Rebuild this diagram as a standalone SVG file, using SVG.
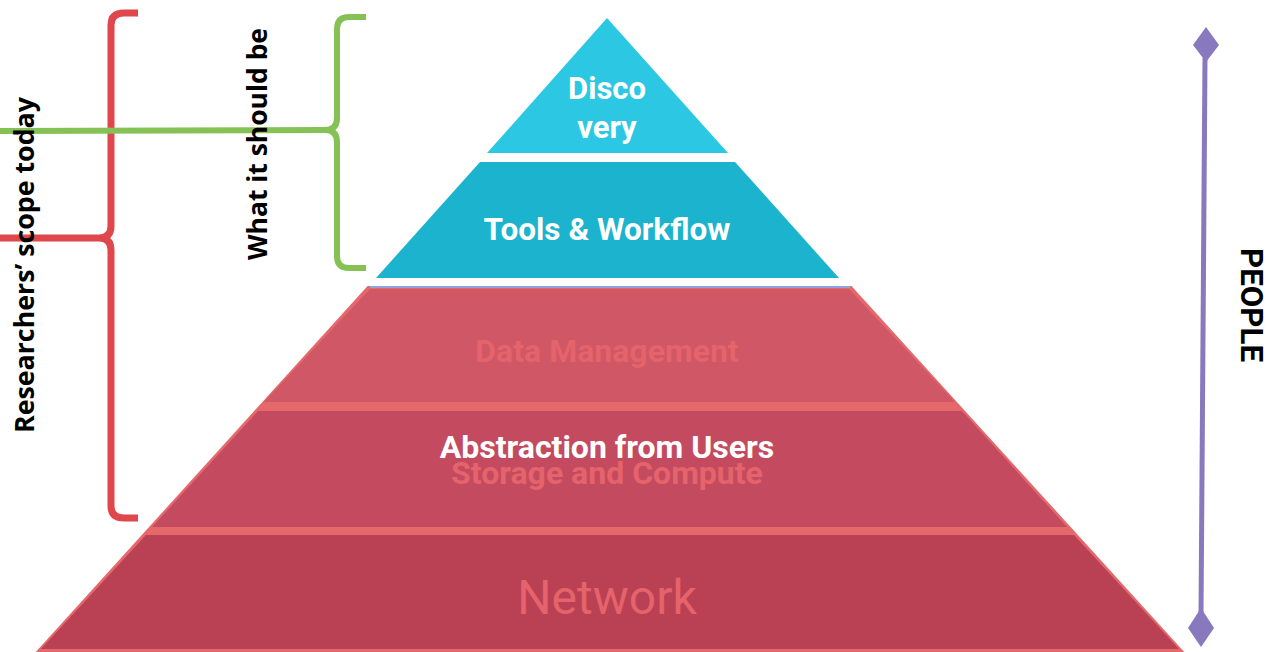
<svg xmlns="http://www.w3.org/2000/svg" width="1268" height="652" viewBox="0 0 1268 652">
  <defs>
    <style>
      .lbl { font-family: Roboto, "Liberation Sans", sans-serif; font-weight: bold; text-anchor: middle; }
      .side { font-family: "Open Sans", "Liberation Sans", sans-serif; font-weight: bold; fill: #000; text-anchor: middle; }
      .white { fill: #ffffff; }
      .salmon { fill: #E5636A; }
      .brace { fill: none; stroke-linecap: butt; stroke-linejoin: round; }
    </style>
  </defs>
  <rect width="1268" height="652" fill="#ffffff"/>

  <!-- top tiers -->
  <g id="discovery">
    <polygon points="607,18 728,153 487,153" fill="#2CC8E3"/>
    <text class="lbl white" x="607" y="99" font-size="31">Disco</text>
    <text class="lbl white" x="607" y="138" font-size="31">very</text>
  </g>
  <g id="tools-workflow">
    <polygon points="480,162 735,162 839,278 376,278" fill="#1BB3CD"/>
    <text class="lbl white" x="607" y="240" font-size="31.5">Tools &amp; Workflow</text>
  </g>

  <!-- lower tiers -->
  <g id="infrastructure">
    <polygon points="368,287 851,287 1182,651 38,651" fill="#E5686B" stroke="#E5686B" stroke-width="2"/>
    <line x1="370" y1="287" x2="850" y2="287" stroke="#8FA3DD" stroke-width="2"/>
  </g>
  <g id="data-management">
    <polygon points="370,289 849,289 955,402 264,402" fill="#D05765"/>
    <text class="lbl salmon" x="607" y="362" font-size="32">Data Management</text>
  </g>
  <g id="storage-compute">
    <polygon points="258,411 962,411 1067,527 152,527" fill="#C44A60"/>
    <text class="lbl white" x="607" y="458" font-size="32">Abstraction from Users</text>
    <text class="lbl salmon" x="607" y="484" font-size="32">Storage and Compute</text>
  </g>
  <g id="network">
    <polygon points="146,535 1074,535 1179,649 41,649" fill="#BA4154"/>
    <text x="607" y="614" font-family="Roboto, 'Liberation Sans', sans-serif" font-size="48" fill="#E5636A" text-anchor="middle">Network</text>
  </g>

  <!-- scope braces -->
  <g id="connectors">
    <g id="researchers-scope">
      <path class="brace" stroke="#E0474C" stroke-width="7" d="M138,13 H124 Q111,13 111,25 V226 Q111,238 99,238 H0 M99,238 Q111,238 111,250 V506 Q111,518 124,518 H138"/>
    </g>
    <g id="should-be-scope">
      <path class="brace" stroke="#86C155" stroke-width="6" d="M366,17 H349 Q337,17 337,29 V118 Q337,130 325,130 L0,131 M325,130 Q337,130 337,142 V256 Q337,268 349,268 H366"/>
    </g>
    <g id="people-axis">
      <line x1="1205" y1="58" x2="1201" y2="615" stroke="#8878BE" stroke-width="5"/>
      <polygon points="1206,27 1219,45 1206,62 1193,45" fill="#8878BE"/>
      <polygon points="1201,608 1214,628 1201,647 1188,628" fill="#8878BE"/>
    </g>
  </g>

  <!-- side labels -->
  <g id="label-researchers">
    <text class="side" transform="translate(34,265) rotate(-90)" font-size="26" textLength="336" lengthAdjust="spacingAndGlyphs">Researchers’ scope today</text>
  </g>
  <g id="label-should-be">
    <text class="side" transform="translate(267,144) rotate(-90)" font-size="26" textLength="232" lengthAdjust="spacingAndGlyphs">What it should be</text>
  </g>
  <g id="label-people">
    <text class="lbl" fill="#000" transform="translate(1241,305) rotate(90)" font-size="31" textLength="114" lengthAdjust="spacingAndGlyphs">PEOPLE</text>
  </g>
</svg>
